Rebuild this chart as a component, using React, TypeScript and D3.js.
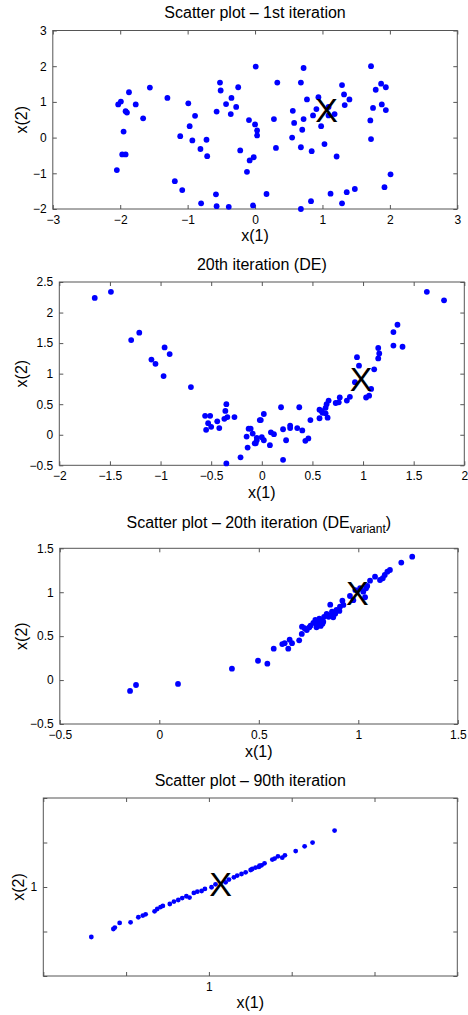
import React, { useEffect, useRef } from "react";
import * as d3 from "d3";

type Pt = [number, number];

// Panel 1 – 1st iteration
const p1Points: Pt[] = [
  [0.01, 1.99], [-1.56, 1.4], [-1.87, 1.27], [-2.03, 0.93], [-1.99, 1.01], [-1.77, 0.93],
  [-1.3, 1.11], [-0.99, 0.96], [-0.52, 1.54], [-0.51, 1.32], [-0.25, 1.41], [-0.35, 1.11],
  [-0.43, 0.94], [-0.28, 0.86], [-0.57, 0.73], [-0.36, 0.66], [-1.92, 0.74], [-1.9, 0.7],
  [-1.66, 0.54], [-0.89, 0.61], [-0.97, 0.32], [-1.11, 0.04], [-0.93, -0.08], [-0.72, -0.06],
  [-0.81, -0.32], [-0.71, -0.52], [-1.95, 0.17], [-1.97, -0.47], [-1.92, -0.47], [-2.05, -0.91],
  [-1.19, -1.22], [-1.08, -1.47], [-0.8, -1.84], [-0.58, -1.59], [-0.57, -1.92], [-0.39, -1.94],
  [-0.03, -1.9], [-0.09, 0.49], [0.0, 0.37], [0.03, 0.2], [0.03, 0.06], [-0.22, -0.36],
  [-0.08, -0.64], [-0.02, -0.55], [-0.12, -0.96],
  [0.72, 1.95], [1.72, 2.0], [0.33, 1.54], [0.68, 1.54], [1.29, 1.47], [1.32, 1.21],
  [1.4, 1.07], [1.33, 0.91], [0.77, 1.07], [0.94, 1.13], [0.91, 0.8], [0.86, 0.62],
  [1.09, 0.86], [1.09, 0.62], [1.18, 0.66], [0.56, 0.75], [0.72, 0.52], [0.58, 0.41],
  [0.7, 0.22], [0.98, 0.32], [0.28, 0.52], [0.55, 0.0], [0.68, -0.27], [0.84, -0.38],
  [1.03, -0.18], [1.21, -0.53], [0.31, -0.29], [1.71, 0.48], [1.72, -0.04], [1.75, 0.83],
  [1.79, 1.34], [1.87, 1.51], [1.94, 1.41], [1.88, 0.93], [1.94, 0.77], [2.01, -1.03],
  [1.92, -1.39], [0.17, -1.58], [0.68, -2.0], [0.83, -1.78], [1.12, -1.57], [1.36, -1.53],
  [1.48, -1.44], [1.29, -1.84],
];
const p1Best: Pt = [1.06, 0.77];

// Panel 2 – 20th iteration (DE)
const p2Points: Pt[] = [
  [-1.65, 2.24], [-1.49, 2.34], [-1.29, 1.55], [-1.21, 1.67], [-1.09, 1.23], [-1.05, 1.16],
  [-0.96, 1.43], [-0.91, 1.32], [-0.97, 0.96], [-0.7, 0.78], [-0.56, 0.31], [-0.51, 0.31],
  [-0.53, 0.19], [-0.5, 0.13], [-0.55, 0.08], [-0.44, 0.22], [-0.42, 0.11], [-0.35, 0.5],
  [-0.36, 0.39], [-0.37, 0.26], [-0.34, 0.29], [-0.27, 0.29], [-0.35, -0.47], [-0.21, -0.37],
  [-0.14, -0.21], [-0.15, -0.03], [-0.13, 0.1], [-0.09, 0.02], [-0.07, -0.14], [-0.05, -0.09],
  [-0.02, 0.24],
  [1.63, 2.34], [1.8, 2.2], [1.34, 1.8], [1.3, 1.68], [1.3, 1.46], [1.39, 1.44],
  [1.15, 1.42], [1.16, 1.33], [1.15, 1.25], [1.11, 1.07], [0.94, 1.27], [0.96, 1.13],
  [0.92, 0.86], [1.08, 0.75], [1.03, 0.61], [1.06, 0.64], [0.87, 0.62], [0.84, 0.56],
  [0.77, 0.61], [0.73, 0.52], [0.76, 0.53], [0.66, 0.56], [0.64, 0.5], [0.63, 0.44],
  [0.57, 0.41], [0.59, 0.39], [0.63, 0.35], [0.57, 0.27], [0.65, 0.28], [0.6, 0.36],
  [0.48, 0.24], [0.37, 0.45], [0.19, 0.45], [0.02, 0.34], [-0.01, 0.24], [-0.11, 0.1],
  [-0.06, -0.14], [0.02, -0.09], [0.0, -0.04], [0.08, -0.17], [0.09, 0.04], [0.12, 0.01],
  [0.21, 0.09], [0.24, -0.09], [0.28, 0.15], [0.28, 0.11], [0.35, 0.11], [0.4, 0.07],
  [0.21, -0.41], [0.43, -0.1], [0.46, -0.06], [-0.05, -0.05],
];
const p2Best: Pt = [0.98, 0.92];

// Panel 3 – 20th iteration (DE variant)
const p3Points: Pt[] = [
  [-0.147, -0.124], [-0.117, -0.056], [0.094, -0.044], [0.365, 0.13], [0.496, 0.22],
  [0.543, 0.187], [0.575, 0.357], [0.618, 0.41], [0.63, 0.42], [0.648, 0.357], [0.667, 0.42],
  [0.655, 0.46], [0.703, 0.453], [0.716, 0.525], [0.717, 0.608], [0.741, 0.57], [0.754, 0.6],
  [0.774, 0.65], [0.791, 0.627], [0.784, 0.684], [0.804, 0.7], [0.811, 0.616], [0.824, 0.665],
  [0.828, 0.72], [0.841, 0.752], [0.851, 0.72], [0.859, 0.858], [0.868, 0.78], [0.874, 0.715],
  [0.884, 0.756], [0.905, 0.787], [0.908, 0.836], [0.92, 0.904], [0.925, 0.855], [0.958, 0.957],
  [0.975, 0.91], [0.985, 1.025], [1.009, 1.045], [1.025, 1.006], [1.039, 1.045], [1.045, 1.071],
  [1.034, 0.943], [1.059, 1.131], [1.084, 1.177], [1.109, 1.139], [1.123, 1.159], [1.133, 1.196],
  [1.146, 1.234], [1.159, 1.253], [1.216, 1.337], [1.271, 1.405],
  [0.73, 0.59], [0.76, 0.62], [0.8, 0.66], [0.82, 0.64], [0.79, 0.6], [0.86, 0.74], [0.89, 0.8],
];
const p3Best: Pt = [0.995, 0.988];

// Panel 4 – 90th iteration
const p4Points: Pt[] = [
  [0.929, 0.9438], [0.9423, 0.9528], [0.9432, 0.9544], [0.9461, 0.9596], [0.9527, 0.9603],
  [0.9574, 0.966], [0.9601, 0.9679], [0.9618, 0.9693], [0.9672, 0.9727], [0.9688, 0.9753],
  [0.9708, 0.9775], [0.9722, 0.9787], [0.9764, 0.9809], [0.9789, 0.9836], [0.9815, 0.9854],
  [0.9839, 0.9876], [0.9864, 0.9896], [0.9883, 0.9881], [0.9909, 0.9933], [0.993, 0.9948],
  [0.9956, 0.9955], [0.9976, 0.9978], [1.0016, 0.9997], [1.004, 1.003], [1.0101, 1.0053],
  [1.0121, 1.0083], [1.0151, 1.0109], [1.0171, 1.0128], [1.0197, 1.0146], [1.0222, 1.0165],
  [1.0252, 1.0191], [1.0282, 1.0218], [1.0306, 1.024], [1.0262, 1.0202], [1.0302, 1.0225],
  [1.0318, 1.0244], [1.0336, 1.0266], [1.0383, 1.0308], [1.0397, 1.0319], [1.0417, 1.0345],
  [1.0443, 1.033], [1.0459, 1.0356], [1.0524, 1.0404], [1.0578, 1.0457], [1.0626, 1.0499],
  [1.0759, 1.0634],
];
const p4Best: Pt = [1.0071, 1.0034];

const p1XTicks = [-3, -2, -1, 0, 1, 2, 3];
const p1YTicks = [-2, -1, 0, 1, 2, 3];
const p2XTicks = [-2, -1.5, -1, -0.5, 0, 0.5, 1, 1.5, 2];
const p2YTicks = [-0.5, 0, 0.5, 1, 1.5, 2, 2.5];
const p3XTicks = [-0.5, 0, 0.5, 1, 1.5];
const p3YTicks = [-0.5, 0, 0.5, 1, 1.5];
const p4XTicks = [0.9, 0.95, 1, 1.05, 1.1, 1.15];
const p4YTicks = [0.9, 0.95, 1, 1.05, 1.1];

const FONT = "'Liberation Sans', Arial, Helvetica, sans-serif";

type PanelCfg = {
  points: Pt[];
  best: Pt;
  xDomain: [number, number];
  yDomain: [number, number];
  xTicks: number[];
  yTicks: number[];
  box: { l: number; r: number; t: number; b: number };
  title: string;
  titleSub?: string;
  titleY: number;
  xLabelY: number;
  yLabelX: number;
  dotR: number;
  onlyOne?: boolean;
};

const panels: PanelCfg[] = [
  {
    points: p1Points, best: p1Best, xDomain: [-3, 3], yDomain: [-2, 3],
    xTicks: p1XTicks, yTicks: p1YTicks,
    box: { l: 52.8, r: 457.3, t: 30.5, b: 209 },
    title: "Scatter plot \u2013 1st iteration", titleY: 18, xLabelY: 241, yLabelX: 27, dotR: 2.9,
  },
  {
    points: p2Points, best: p2Best, xDomain: [-2, 2], yDomain: [-0.5, 2.5],
    xTicks: p2XTicks, yTicks: p2YTicks,
    box: { l: 59.3, r: 464.3, t: 282, b: 465.3 },
    title: "20th iteration (DE)", titleY: 270, xLabelY: 498, yLabelX: 27, dotR: 2.9,
  },
  {
    points: p3Points, best: p3Best, xDomain: [-0.5, 1.5], yDomain: [-0.5, 1.5],
    xTicks: p3XTicks, yTicks: p3YTicks,
    box: { l: 59.8, r: 457.8, t: 548.3, b: 724 },
    title: "Scatter plot \u2013 20th iteration (DE", titleSub: "variant", titleY: 528, xLabelY: 757, yLabelX: 27, dotR: 2.9,
  },
  {
    points: p4Points, best: p4Best, xDomain: [0.9, 1.15], yDomain: [0.9, 1.1],
    xTicks: p4XTicks, yTicks: p4YTicks,
    box: { l: 43.3, r: 457.3, t: 798, b: 976 },
    title: "Scatter plot \u2013 90th iteration", titleY: 786, xLabelY: 1008, yLabelX: 24, dotR: 2.4, onlyOne: true,
  },
];

const fmt = (d: number) => String(+d.toFixed(4)).replace("-", "\u2212");

export default function App() {
  const ref = useRef<SVGSVGElement>(null);

  useEffect(() => {
    const svg = d3.select(ref.current);
    svg.selectAll("*").remove();

    panels.forEach((p) => {
      const { l, r, t, b } = p.box;
      const x = d3.scaleLinear().domain(p.xDomain).range([l, r]);
      const y = d3.scaleLinear().domain(p.yDomain).range([b, t]);
      const g = svg.append("g");

      g.append("rect").attr("x", l).attr("y", t).attr("width", r - l).attr("height", b - t)
        .attr("fill", "#fff").attr("stroke", "none");

      const labelFmt = (d: d3.NumberValue) => {
        const v = +d;
        if (p.onlyOne) return Math.abs(v - 1) < 1e-9 ? "1" : "";
        return fmt(v);
      };

      const styleAxis = (sel: d3.Selection<SVGGElement, unknown, null, undefined>) => {
        sel.select(".domain").remove();
        sel.selectAll(".tick line").attr("stroke", "#555").attr("stroke-width", 1);
        sel.selectAll(".tick text").attr("font-family", FONT).attr("font-size", 12).attr("fill", "#000");
      };

      const bottom = g.append("g").attr("transform", `translate(0,${b})`)
        .call(d3.axisBottom(x).tickValues(p.xTicks).tickSize(-4).tickPadding(6).tickFormat(labelFmt));
      styleAxis(bottom);
      const top = g.append("g").attr("transform", `translate(0,${t})`)
        .call(d3.axisTop(x).tickValues(p.xTicks).tickSize(-4).tickFormat(() => ""));
      styleAxis(top);
      const left = g.append("g").attr("transform", `translate(${l},0)`)
        .call(d3.axisLeft(y).tickValues(p.yTicks).tickSize(-4).tickPadding(6).tickFormat(labelFmt));
      styleAxis(left);
      const right = g.append("g").attr("transform", `translate(${r},0)`)
        .call(d3.axisRight(y).tickValues(p.yTicks).tickSize(-4).tickFormat(() => ""));
      styleAxis(right);

      g.append("rect").attr("x", l).attr("y", t).attr("width", r - l).attr("height", b - t)
        .attr("fill", "none").attr("stroke", "#555").attr("stroke-width", 1);

      g.append("g").selectAll("circle").data(p.points).join("circle")
        .attr("cx", (d) => x(d[0])).attr("cy", (d) => y(d[1])).attr("r", p.dotR)
        .attr("fill", "#0000ff");

      g.append("text").attr("x", x(p.best[0])).attr("y", y(p.best[1]))
        .attr("text-anchor", "middle").attr("dominant-baseline", "central")
        .attr("font-family", FONT).attr("font-size", 34).attr("fill", "#000").text("X");

      const cx = (l + r) / 2;
      const title = g.append("text").attr("x", cx).attr("y", p.titleY)
        .attr("text-anchor", "middle").attr("font-family", FONT).attr("font-size", 16).attr("fill", "#000");
      title.append("tspan").text(p.title);
      if (p.titleSub) {
        title.append("tspan").attr("dy", 5).attr("font-size", 12).text(p.titleSub);
        title.append("tspan").attr("dy", -5).text(")");
      }

      g.append("text").attr("x", cx).attr("y", p.xLabelY).attr("text-anchor", "middle")
        .attr("font-family", FONT).attr("font-size", 16).attr("fill", "#000").text("x(1)");

      g.append("text").attr("transform", `translate(${p.yLabelX},${(t + b) / 2}) rotate(-90)`)
        .attr("text-anchor", "middle").attr("font-family", FONT).attr("font-size", 16)
        .attr("fill", "#000").text("x(2)");
    });
  }, []);

  return (
    <svg ref={ref} width={468} height={1015}
      style={{ position: "absolute", left: 0, top: 0, display: "block", background: "#fff" }} />
  );
}
